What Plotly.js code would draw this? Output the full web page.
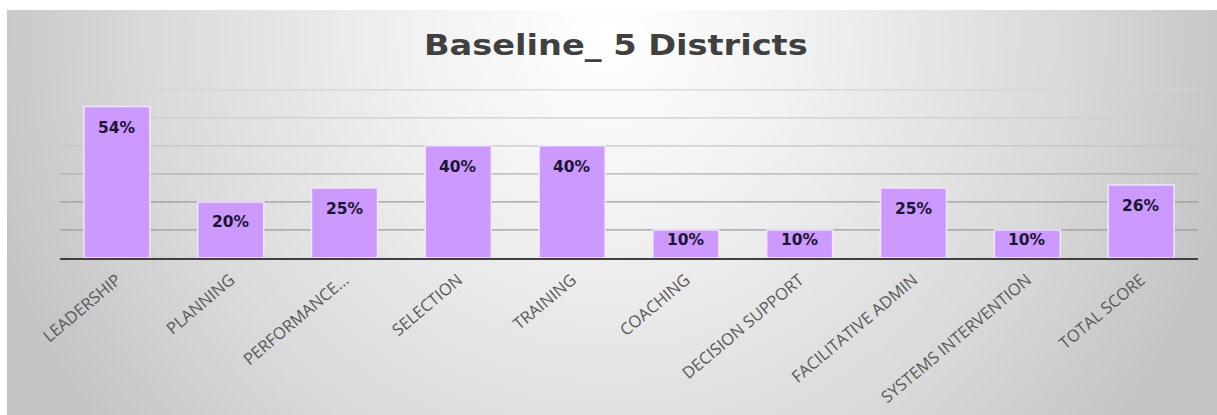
<!DOCTYPE html>
<html>
<head>
<meta charset="utf-8">
<script src="https://cdn.plot.ly/plotly-3.0.1.min.js"></script>
<style>
  html, body { margin: 0; padding: 0; background: #ffffff; }
  #wrap { position: relative; width: 1217px; height: 415px; overflow: hidden; background: #ffffff; }
  #bg { position: absolute; left: 7px; top: 10px; width: 1210px; height: 405px;
        background: radial-gradient(circle 640px at 600px 25px, #ffffff 0%, #f1f1f1 30%, #d9d9d9 72%, #c4c4c4 100%); }
  #chart { position: absolute; left: 0; top: 0; width: 1217px; height: 415px; }
  #chart .gtitle { transform-box: fill-box; transform-origin: center; transform: scaleX(1.2); }
</style>
</head>
<body>
<div id="wrap"><div id="bg"></div><div id="chart"></div></div>
<script>
const categories = ["LEADERSHIP", "PLANNING", "PERFORMANCE...", "SELECTION", "TRAINING",
                    "COACHING", "DECISION SUPPORT", "FACILITATIVE ADMIN", "SYSTEMS INTERVENTION", "TOTAL SCORE"];
const values = [54, 20, 25, 40, 40, 10, 10, 25, 10, 26];
const valueLabels = ["54%", "20%", "25%", "40%", "40%", "10%", "10%", "25%", "10%", "26%"];
const chartTitle = "Baseline_ 5 Districts";
const gridValues = [10, 20, 30, 40, 50, 60];
const gridColors = ["#9c9c9c", "#9c9c9c", "#b0b0b0", "#c4c4c4", "#cecece", "#d4d4d4"];

const trace = {
  type: "bar",
  x: categories,
  y: values,
  marker: { color: "#cc99ff", line: { color: "rgba(245,235,255,0.9)", width: 1.5 } },
  hoverinfo: "skip"
};

const annotations = categories.map((c, i) => ({
  x: c,
  y: values[i] - Math.min(7.5, 0.35 * values[i]),
  xref: "x", yref: "y",
  text: "<b>" + valueLabels[i] + "</b>",
  showarrow: false,
  yanchor: "middle",
  font: { family: "DejaVu Sans, sans-serif", size: 15.5, color: "#1d1533" }
}));

const gridShapes = gridValues.map((v, i) => ({
  type: "line", layer: "below",
  xref: "paper", x0: 0, x1: 1,
  yref: "y", y0: v, y1: v,
  line: { color: gridColors[i], width: 1.2 }
}));

const layout = {
  width: 1217, height: 415,
  paper_bgcolor: "rgba(0,0,0,0)",
  plot_bgcolor: "rgba(0,0,0,0)",
  margin: { l: 60, r: 19, t: 87, b: 157 },
  title: {
    text: "<b>" + chartTitle + "</b>",
    x: 0.506, xanchor: "center", xref: "container",
    y: 0.89, yanchor: "middle", yref: "container",
    font: { family: "DejaVu Sans, sans-serif", size: 28, color: "#404040" }
  },
  bargap: 0.42,
  showlegend: false,
  xaxis: {
    type: "category",
    tickangle: -40,
    tickfont: { family: "Open Sans, sans-serif", size: 16.5, color: "#595959" },
    ticklabelstandoff: 4,
    showline: true, linecolor: "#3f3f3f", linewidth: 2,
    ticks: "", showgrid: false, zeroline: false
  },
  yaxis: {
    range: [0, 61],
    showticklabels: false,
    showgrid: false, zeroline: false, showline: false, ticks: ""
  },
  shapes: gridShapes,
  annotations: annotations
};

Plotly.newPlot("chart", [trace], layout, { displayModeBar: false, staticPlot: true });
</script>
</body>
</html>
